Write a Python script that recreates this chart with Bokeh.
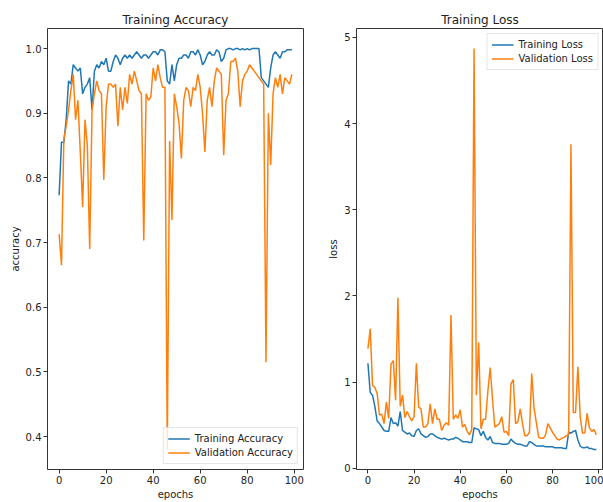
from bokeh.plotting import figure
from bokeh.layouts import row
from bokeh.models import Range1d, FixedTicker, Legend, LegendItem, NumeralTickFormatter
from bokeh.embed import file_html
from bokeh.resources import INLINE

epochs = list(range(100))

train_acc = [0.773, 0.855, 0.855, 0.89, 0.95, 0.945, 0.975, 0.97, 0.965, 0.97,
             0.93, 0.94, 0.945, 0.955, 0.905, 0.965, 0.975, 0.97, 0.98, 0.975,
             0.985, 0.965, 0.965, 0.98, 0.99, 0.985, 0.975, 0.985, 0.99, 0.985,
             0.99, 0.985, 0.99, 0.995, 0.99, 0.985, 0.99, 0.99, 0.985, 0.99,
             0.995, 0.995, 0.99, 0.998, 0.998, 0.995, 0.95, 0.945, 0.975, 0.95,
             0.975, 0.985, 0.985, 0.99, 0.99, 0.985, 0.995, 0.995, 0.99, 0.998,
             0.99, 0.975, 0.98, 0.99, 0.995, 0.99, 0.99, 0.998, 0.995, 0.98,
             0.985, 0.998, 1.0, 1.0, 0.998, 1.0, 1.0, 0.998, 1.0, 0.998,
             1.0, 0.998, 1.0, 1.0, 1.0, 1.0, 0.955, 0.95, 0.945, 0.94,
             0.97, 0.99, 0.995, 0.99, 0.985, 0.995, 0.995, 0.998, 0.998, 0.998]

val_acc = [0.713, 0.665, 0.86, 0.88, 0.905, 0.935, 0.96, 0.89, 0.92, 0.84,
           0.755, 0.89, 0.85, 0.69, 0.905, 0.93, 0.95, 0.935, 0.93, 0.797,
           0.91, 0.945, 0.945, 0.94, 0.945, 0.88, 0.94, 0.905, 0.94, 0.915,
           0.96, 0.945, 0.965, 0.95, 0.935, 0.93, 0.703, 0.93, 0.92, 0.925,
           0.97, 0.95, 0.975, 0.955, 0.94, 0.94, 0.38, 0.857, 0.735, 0.93,
           0.91, 0.885, 0.83, 0.92, 0.94, 0.935, 0.91, 0.94, 0.935, 0.96,
           0.94, 0.9, 0.84, 0.92, 0.94, 0.91, 0.95, 0.97, 0.965, 0.96,
           0.835, 0.92, 0.93, 0.98, 0.98, 0.985, 0.965, 0.91, 0.95, 0.96,
           0.965, 0.975, 0.97, 0.965, 0.96, 0.955, 0.95, 0.945, 0.515, 0.9,
           0.82, 0.93, 0.955, 0.94, 0.96, 0.93, 0.955, 0.95, 0.945, 0.96]

train_loss = [1.22, 0.88, 0.85, 0.72, 0.55, 0.52, 0.48, 0.44, 0.43, 0.43,
              0.59, 0.52, 0.53, 0.49, 0.66, 0.44, 0.42, 0.40, 0.41, 0.38,
              0.37, 0.44, 0.46, 0.40, 0.38, 0.36, 0.37, 0.40, 0.40, 0.38,
              0.36, 0.35, 0.34, 0.35, 0.34, 0.33, 0.34, 0.34, 0.36, 0.35,
              0.33, 0.31, 0.31, 0.31, 0.30, 0.30, 0.47, 0.46, 0.45, 0.38,
              0.43, 0.36, 0.33, 0.37, 0.30, 0.29, 0.29, 0.29, 0.28, 0.28,
              0.28, 0.29, 0.34, 0.31, 0.29, 0.28, 0.28, 0.27, 0.26, 0.26,
              0.31, 0.30, 0.28, 0.26, 0.26, 0.26, 0.26, 0.25, 0.25, 0.25,
              0.25, 0.24, 0.24, 0.24, 0.24, 0.23, 0.23, 0.42, 0.41, 0.43,
              0.44, 0.33, 0.26, 0.24, 0.24, 0.25, 0.23, 0.23, 0.22, 0.22]

val_loss = [1.39, 1.62, 0.96, 0.94, 0.87, 0.62, 0.63, 0.52, 0.77, 0.58,
            1.21, 1.25, 0.79, 1.98, 0.72, 0.85, 0.59, 0.66, 0.60, 0.55,
            0.60, 1.22, 0.71, 0.69, 0.48, 0.48, 0.52, 0.75, 0.52, 0.69,
            0.57, 0.57, 0.44, 0.50, 0.53, 0.50, 1.78, 0.57, 0.62, 0.58,
            0.68, 0.48, 0.51, 0.43, 0.39, 0.45, 4.87, 0.85, 1.46, 0.46,
            0.57, 0.57, 0.90, 1.17, 0.80, 0.48, 0.50, 0.52, 0.60, 0.42,
            0.43, 0.38, 0.98, 1.03, 0.52, 0.54, 0.69, 0.52, 0.38, 0.38,
            0.42, 1.10, 0.70, 0.53, 0.36, 0.35, 0.35, 0.39, 0.52, 0.47,
            0.42, 0.38, 0.34, 0.33, 0.35, 0.36, 0.38, 0.39, 3.76, 0.65,
            0.65, 1.18, 0.60, 0.41, 0.41, 0.64, 0.47, 0.43, 0.45, 0.39]

x_ticks = [0, 20, 40, 60, 80, 100]
acc_ticks = [0.4, 0.5, 0.6, 0.7, 0.8, 0.9, 1.0]
loss_ticks = [0, 1, 2, 3, 4, 5]

BLUE = "#1f77b4"
ORANGE = "#ff7f0e"
FONT = "DejaVu Sans"


def style(p, title):
    p.title.text = title
    p.title.align = "center"
    p.title.text_font = FONT
    p.title.text_font_style = "normal"
    p.title.text_font_size = "12px"
    p.title.text_color = "#222222"
    p.title.standoff = 3
    p.outline_line_color = "#333333"
    p.outline_line_width = 1
    p.xgrid.visible = False
    p.ygrid.visible = False
    p.background_fill_color = "white"
    p.border_fill_color = "white"
    for ax in (p.xaxis[0], p.yaxis[0]):
        ax.axis_line_color = None
        ax.major_tick_in = 0
        ax.major_tick_out = 4
        ax.major_tick_line_color = "#333333"
        ax.minor_tick_line_color = None
        ax.major_label_text_font = FONT
        ax.major_label_text_font_size = "10px"
        ax.major_label_text_color = "#222222"
        ax.major_label_standoff = 2
        ax.axis_label_text_font = FONT
        ax.axis_label_text_font_style = "normal"
        ax.axis_label_text_font_size = "10px"
        ax.axis_label_text_color = "#222222"
        ax.axis_label_standoff = 2


def legend(p, items, loc):
    lg = Legend(items=items, location=loc)
    lg.label_text_font = FONT
    lg.label_text_font_size = "10px"
    lg.label_text_color = "#222222"
    lg.glyph_width = 22
    lg.glyph_height = 13
    lg.label_height = 13
    lg.spacing = 1
    lg.padding = 4
    lg.margin = 5
    lg.border_line_color = "#cccccc"
    lg.border_line_width = 1
    lg.background_fill_alpha = 0.8
    p.add_layout(lg)


p1 = figure(width=325, height=502, output_backend="svg", toolbar_location=None,
            x_range=Range1d(-4.95, 103.95), y_range=Range1d(0.349, 1.031),
            min_border_left=47, min_border_right=22, min_border_top=28, min_border_bottom=30)
style(p1, "Training Accuracy")
r1 = p1.line(epochs, train_acc, line_color=BLUE, line_width=1.5)
r2 = p1.line(epochs, val_acc, line_color=ORANGE, line_width=1.5)
p1.xaxis.ticker = FixedTicker(ticks=x_ticks)
p1.yaxis.ticker = FixedTicker(ticks=acc_ticks)
p1.yaxis.formatter = NumeralTickFormatter(format="0.0")
p1.xaxis.axis_label = "epochs"
p1.yaxis.axis_label = "accuracy"
legend(p1, [LegendItem(label="Training Accuracy", renderers=[r1]),
            LegendItem(label="Validation Accuracy", renderers=[r2])], "bottom_right")

p2 = figure(width=278, height=502, output_backend="svg", toolbar_location=None,
            x_range=Range1d(-4.95, 102.1), y_range=Range1d(-0.0125, 5.1025),
            min_border_left=28, min_border_right=0, min_border_top=28, min_border_bottom=30)
style(p2, "Training Loss")
r3 = p2.line(epochs, train_loss, line_color=BLUE, line_width=1.5)
r4 = p2.line(epochs, val_loss, line_color=ORANGE, line_width=1.5)
p2.xaxis.ticker = FixedTicker(ticks=x_ticks)
p2.yaxis.ticker = FixedTicker(ticks=loss_ticks)
p2.xaxis.axis_label = "epochs"
p2.yaxis.axis_label = "loss"
legend(p2, [LegendItem(label="Training Loss", renderers=[r3]),
            LegendItem(label="Validation Loss", renderers=[r4])], "top_right")

layout = row(p1, p2)
open("out.html", "w").write(file_html(layout, INLINE))
